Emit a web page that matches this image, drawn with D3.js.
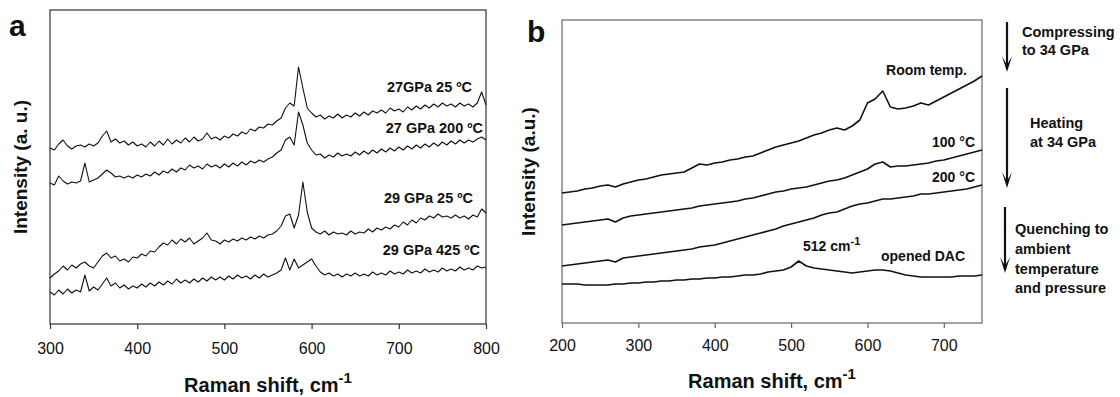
<!DOCTYPE html>
<html>
<head>
<meta charset="utf-8">
<script src="https://cdn.jsdelivr.net/npm/d3@7"></script>
<style>
  html, body { margin: 0; padding: 0; background: #fff; }
  svg { display: block; }
  text { font-family: "Liberation Sans", Arial, Helvetica, sans-serif; fill: #111; }
</style>
</head>
<body>
<svg id="chart" width="1120" height="397"></svg>
<script>
// ---------------- Panel a data (Raman shift grid 300..800, step 5) ----------------
const shiftA = d3.range(300, 801, 5);
const a_27GPa_25C = [
  176, 174, 180, 184, 178, 175, 178, 179, 177, 180,
  178, 181, 188, 193, 182, 185, 181, 183, 179, 182,
  178, 180, 177, 182, 178, 183, 179, 185, 180, 184,
  181, 186, 182, 187, 183, 185, 191, 185, 187, 184,
  188, 186, 190, 188, 192, 190, 195, 193, 197, 196,
  200, 199, 203, 206, 216, 221, 218, 257, 236, 216,
  211, 207, 209, 205, 208, 206, 210, 206, 209, 207,
  211, 208, 212, 209, 213, 211, 214, 211, 216, 213,
  215, 212, 217, 214, 218, 215, 219, 216, 220, 217,
  221, 218, 220, 217, 221, 218, 220, 217, 221, 232,
  219];
const a_27GPa_200C = [
  141, 139, 148, 143, 140, 142, 141, 143, 161, 142,
  144, 146, 150, 154, 151, 147, 148, 146, 148, 146,
  149, 147, 150, 148, 152, 149, 153, 151, 155, 152,
  156, 154, 159, 156, 158, 155, 160, 157, 159, 156,
  160, 157, 161, 158, 162, 159, 163, 161, 164, 162,
  165, 167, 171, 174, 184, 187, 179, 212, 199, 181,
  174, 169, 170, 166, 169, 167, 171, 168, 170, 168,
  172, 169, 173, 170, 174, 171, 175, 172, 176, 173,
  177, 174, 178, 175, 179, 176, 180, 177, 181, 178,
  182, 179, 183, 180, 184, 181, 184, 182, 185, 187,
  184];
const a_29GPa_25C = [
  46, 50, 53, 58, 54, 59, 56, 60, 62, 58,
  56, 62, 68, 71, 66, 68, 63, 65, 62, 67,
  66, 70, 68, 73, 72, 77, 81, 79, 84, 80,
  85, 82, 86, 80, 83, 86, 91, 84, 83, 80,
  84, 82, 85, 83, 86, 84, 87, 85, 88, 86,
  89, 90, 93, 98, 108, 110, 96, 109, 142, 112,
  96, 92, 90, 93, 89, 92, 90, 91, 89, 93,
  90, 92, 91, 95, 92, 96, 94, 97, 95, 99,
  97, 102, 99, 104, 101, 106, 104, 108, 106, 110,
  107, 108, 106, 109, 106, 108, 105, 109, 107, 115,
  111];
const a_29GPa_425C = [
  32, 29, 34, 30, 35, 31, 34, 32, 49, 33,
  37, 34, 40, 46, 38, 41, 36, 39, 35, 38,
  36, 40, 37, 41, 38, 42, 39, 43, 40, 45,
  41, 44, 41, 45, 42, 46, 43, 47, 44, 47,
  44, 48, 45, 49, 46, 48, 45, 49, 46, 50,
  47, 49, 51, 54, 66, 54, 65, 56, 59, 62,
  65, 58, 52, 49, 51, 48, 50, 47, 50, 48,
  51, 48, 50, 48, 52, 49, 51, 49, 53, 50,
  52, 50, 54, 51, 53, 51, 55, 52, 54, 52,
  56, 53, 55, 53, 57, 54, 56, 54, 58, 56,
  57];
const labelsA = ["27GPa 25 ºC", "27 GPa 200 ºC", "29 GPa 25 ºC", "29 GPa 425 ºC"];
const ticksA = [300, 400, 500, 600, 700, 800];

// ---------------- Panel b data (Raman shift grid 200..750, step 10) ----------------
const shiftB = d3.range(200, 751, 10);
const b_room = [
  130, 131, 132, 134, 135, 137, 138, 136, 139, 141,
  143, 144, 146, 148, 149, 150, 151, 155, 159, 158,
  160, 161, 163, 164, 166, 167, 170, 173, 176, 178,
  180, 182, 185, 188, 190, 193, 195, 193, 197, 203,
  220, 224, 232, 216, 214, 215, 217, 220, 218, 222,
  226, 230, 234, 238, 242, 247];
const b_100C = [
  98, 99, 100, 101, 102, 103, 104, 101, 105, 107,
  108, 109, 110, 111, 112, 113, 114, 115, 117, 118,
  119, 120, 121, 122, 124, 125, 127, 129, 131, 132,
  134, 135, 136, 138, 140, 142, 143, 145, 148, 151,
  154, 159, 161, 156, 157, 157, 158, 159, 160, 162,
  163, 165, 167, 169, 171, 173];
const b_200C = [
  57, 58, 59, 60, 61, 62, 63, 61, 65, 66,
  67, 68, 69, 70, 71, 72, 73, 74, 76, 77,
  78, 80, 82, 84, 86, 88, 90, 92, 94, 97,
  99, 101, 103, 105, 108, 110, 111, 114, 117, 119,
  120, 122, 124, 124, 125, 126, 127, 129, 129, 130,
  131, 132, 133, 134, 136, 138];
const b_openedDAC = [
  39, 39, 39, 38, 38, 38, 38, 39, 39, 40,
  40, 41, 41, 42, 42, 43, 43, 44, 44, 45,
  45, 46, 46, 47, 48, 48, 49, 51, 52, 53,
  56, 62, 57, 55, 54, 53, 52, 51, 50, 51,
  52, 53, 53, 52, 50, 48, 47, 46, 46, 46,
  46, 46, 47, 47, 47, 48];
const labelsB = ["Room temp.", "100 °C", "200 °C", "opened DAC"];
const ticksB = [200, 300, 400, 500, 600, 700];
const stepsText = [
  ["Compressing", "to 34 GPa"],
  ["Heating", "at 34 GPa"],
  ["Quenching to", "ambient", "temperature", "and pressure"]
];

// ---------------- Drawing ----------------
const svg = d3.select("#chart");
const FONT = "'Liberation Sans', Arial, Helvetica, sans-serif";

function drawPanel(cfg) {
  const g = svg.append("g");
  const x = d3.scaleLinear().domain(cfg.xDomain).range([cfg.left, cfg.right]);
  const y = d3.scaleLinear().domain(cfg.yDomain).range([cfg.bottom, cfg.top]);
  // frame
  g.append("rect")
    .attr("x", cfg.left).attr("y", cfg.top)
    .attr("width", cfg.right - cfg.left).attr("height", cfg.bottom - cfg.top)
    .attr("fill", "none").attr("stroke", cfg.frameColor).attr("stroke-width", 1.2);
  // x axis
  const ax = g.append("g").attr("transform", `translate(0,${cfg.bottom})`)
    .call(d3.axisBottom(x).tickValues(cfg.ticks).tickSizeInner(5).tickSizeOuter(0)
      .tickPadding(cfg.tickPad).tickFormat(d3.format("d")));
  ax.select(".domain").remove();
  ax.selectAll("line").attr("stroke", cfg.frameColor).attr("stroke-width", 1.2);
  ax.selectAll("text").attr("font-size", 16).attr("font-family", FONT).attr("fill", "#111");
  // lines
  const line = d3.line().x((d, i) => x(cfg.shift[i])).y(d => y(d));
  cfg.series.forEach(s => {
    g.append("path").datum(s).attr("d", line)
      .attr("fill", "none").attr("stroke", "#111")
      .attr("stroke-width", cfg.lineWidth).attr("stroke-linejoin", "round");
  });
  // x title
  const t = g.append("text").attr("x", (cfg.left + cfg.right) / 2).attr("y", cfg.xTitleY)
    .attr("text-anchor", "middle").attr("font-weight", "bold").attr("font-size", 20);
  t.append("tspan").text("Raman shift, cm");
  t.append("tspan").text("-1").attr("dy", -9).attr("font-size", 15);
  // y title
  g.append("text")
    .attr("transform", `translate(${cfg.yTitleX},${(cfg.top + cfg.bottom) / 2}) rotate(-90)`)
    .attr("text-anchor", "middle").attr("font-weight", "bold").attr("font-size", 19)
    .text(cfg.yTitle);
  // panel letter
  g.append("text").attr("x", cfg.letterX).attr("y", cfg.letterY)
    .attr("font-weight", "bold").attr("font-size", 30).text(cfg.letter);
  return { g, x, y };
}

// Panel a
const pa = drawPanel({
  left: 50, right: 486, top: 10, bottom: 324,
  xDomain: [300, 800], yDomain: [0, 314], ticks: ticksA, tickPad: 14,
  shift: shiftA, series: [a_27GPa_25C, a_27GPa_200C, a_29GPa_25C, a_29GPa_425C],
  frameColor: "#333", lineWidth: 1.1,
  xTitleY: 392, yTitleX: 27, yTitle: "Intensity (a. u.)",
  letter: "a", letterX: 9, letterY: 36
});
const posA = [[472, 92], [483, 133], [473, 203], [480, 255]];
labelsA.forEach((txt, i) => {
  pa.g.append("text").attr("x", posA[i][0]).attr("y", posA[i][1])
    .attr("text-anchor", "end").attr("font-weight", "bold").attr("font-size", 14.5).text(txt);
});

// Panel b
const pb = drawPanel({
  left: 562, right: 982, top: 20, bottom: 323,
  xDomain: [200, 750], yDomain: [0, 303], ticks: ticksB, tickPad: 12,
  shift: shiftB, series: [b_room, b_100C, b_200C, b_openedDAC],
  frameColor: "#666", lineWidth: 1.6,
  xTitleY: 388, yTitleX: 535, yTitle: "Intensity (a.u.)",
  letter: "b", letterX: 527, letterY: 42
});
const posB = [[967, 75, "end"], [975, 147, "end"], [975, 182, "end"], [881, 261, "start"]];
labelsB.forEach((txt, i) => {
  pb.g.append("text").attr("x", posB[i][0]).attr("y", posB[i][1])
    .attr("text-anchor", posB[i][2]).attr("font-weight", "bold").attr("font-size", 14).text(txt);
});
const pk = pb.g.append("text").attr("x", 803).attr("y", 251)
  .attr("font-weight", "bold").attr("font-size", 14);
pk.append("tspan").text("512 cm");
pk.append("tspan").text("-1").attr("dy", -6).attr("font-size", 11);

// Process arrows and notes
const arrows = [[1007, 22, 72], [1007, 88, 188], [1005, 207, 273]];
const ga = svg.append("g");
arrows.forEach(([ax, y0, y1]) => {
  ga.append("line").attr("x1", ax).attr("x2", ax).attr("y1", y0).attr("y2", y1 - 4)
    .attr("stroke", "#111").attr("stroke-width", 2.2);
  ga.append("path")
    .attr("d", `M${ax - 5},${y1 - 16} L${ax},${y1} L${ax + 5},${y1 - 16} L${ax},${y1 - 7} Z`)
    .attr("fill", "#111");
});
const notePos = [[1022, [37, 55]], [1030, [128, 147]], [1015, [234, 254, 274, 293]]];
stepsText.forEach((lines, i) => {
  lines.forEach((ln, j) => {
    ga.append("text").attr("x", notePos[i][0]).attr("y", notePos[i][1][j])
      .attr("font-weight", "bold").attr("font-size", 14.5).text(ln);
  });
});
</script>
</body>
</html>
